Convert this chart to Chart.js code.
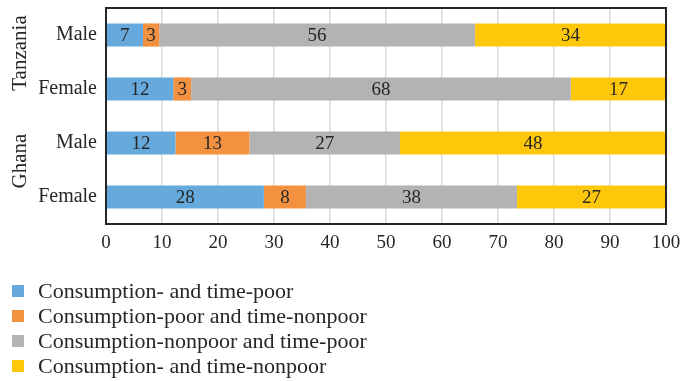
<!DOCTYPE html>
<html>
<head>
<meta charset="utf-8">
<script src="https://cdn.jsdelivr.net/npm/chart.js@4/dist/chart.umd.min.js"></script>
<style>
  html, body { margin: 0; padding: 0; background: #fff; }
  #wrap { width: 700px; height: 381px; }
</style>
</head>
<body>
<div id="wrap"><canvas id="chart"></canvas></div>
<script>
// Data
var rows = ['Male', 'Female', 'Male', 'Female'];
var groups = ['Tanzania', 'Ghana'];
var seriesNames = [
    'Consumption- and time-poor',
    'Consumption-poor and time-nonpoor',
    'Consumption-nonpoor and time-poor',
    'Consumption- and time-nonpoor'
];
var consTimePoor = [6.6, 12.0, 12.4, 28.2];
var consPoorTimeNonpoor = [2.9, 3.2, 13.2, 7.5];
var consNonpoorTimePoor = [56.4, 67.8, 26.9, 37.7];
var consTimeNonpoor = [34.1, 17.0, 47.5, 26.6];
var xTicks = [0, 10, 20, 30, 40, 50, 60, 70, 80, 90, 100];

var colors = ['#66a9dc', '#f29140', '#b3b3b3', '#ffc70a'];
var serif = '"Liberation Serif", "DejaVu Serif", serif';

// Plugins

var segmentLabels = {
    id: 'segmentLabels',
    afterDatasetsDraw: function (chart) {
        var ctx = chart.ctx;
        ctx.save();
        ctx.font = '19px ' + serif;
        ctx.fillStyle = '#262626';
        ctx.textAlign = 'center';
        ctx.textBaseline = 'middle';
        chart.data.datasets.forEach(function (ds, i) {
            chart.getDatasetMeta(i).data.forEach(function (bar, j) {
                var x = (bar.x + bar.base) / 2;
                ctx.fillText(Math.round(ds.data[j]), x, bar.y + 1);
            });
        });
        ctx.restore();
    }
};

var frameAndGroups = {
    id: 'frameAndGroups',
    afterDraw: function (chart) {
        var ctx = chart.ctx;
        var a = chart.chartArea;
        var y = chart.scales.y;
        ctx.save();
        ctx.strokeStyle = '#262626';
        ctx.lineWidth = 2;
        ctx.strokeRect(a.left, a.top, a.right - a.left, a.bottom - a.top);

        ctx.font = '21px ' + serif;
        ctx.fillStyle = '#262626';
        ctx.textAlign = 'center';
        ctx.textBaseline = 'middle';
        groups.forEach(function (g, k) {
            var yc = (y.getPixelForValue(k * 2) + y.getPixelForValue(k * 2 + 1)) / 2;
            ctx.save();
            ctx.translate(20, yc - 9);
            ctx.rotate(-Math.PI / 2);
            ctx.fillText(g, 0, 0);
            ctx.restore();
        });

        // legend, one entry per row
        ctx.font = '22px ' + serif;
        ctx.textAlign = 'left';
        chart.data.datasets.forEach(function (ds, i) {
            var cy = 291 + i * 25;
            ctx.fillStyle = ds.backgroundColor;
            ctx.fillRect(12, cy - 6, 12, 12);
            ctx.fillStyle = '#262626';
            ctx.fillText(ds.label, 38, cy + 1);
        });
        ctx.restore();
    }
};

var ctx = document.getElementById('chart');

var chart = new Chart(ctx, {
    type: 'bar',
    data: {
        labels: rows,
        datasets: [
            { label: seriesNames[0], data: consTimePoor, backgroundColor: colors[0] },
            { label: seriesNames[1], data: consPoorTimeNonpoor, backgroundColor: colors[1] },
            { label: seriesNames[2], data: consNonpoorTimePoor, backgroundColor: colors[2] },
            { label: seriesNames[3], data: consTimeNonpoor, backgroundColor: colors[3] }
        ]
    },
    options: {
        indexAxis: 'y',
        responsive: true,
        maintainAspectRatio: false,
        animation: false,
        layout: { padding: { left: 0, right: 34, top: 8, bottom: 0 } },
        datasets: {
            bar: { categoryPercentage: 1, barPercentage: 0.43, borderWidth: 0 }
        },
        plugins: {
            legend: { display: false },
            tooltip: { enabled: false }
        },
        scales: {
            x: {
                stacked: true,
                min: 0,
                max: 100,
                afterBuildTicks: function (scale) {
                    scale.ticks = xTicks.map(function (v) { return { value: v }; });
                },
                afterFit: function (scale) {
                    scale.height = 157;
                    scale.paddingLeft = 0;
                    scale.paddingRight = 0;
                },
                grid: { color: '#dcdcdc', lineWidth: 1.5, drawTicks: false },
                border: { display: false },
                ticks: {
                    padding: 8,
                    color: '#262626',
                    font: { family: serif, size: 19 }
                }
            },
            y: {
                stacked: true,
                afterFit: function (scale) {
                    scale.width = 106;
                    scale.paddingTop = 0;
                    scale.paddingBottom = 0;
                },
                grid: { display: false },
                border: { display: false },
                ticks: {
                    padding: 1,
                    color: '#262626',
                    font: { family: serif, size: 20 }
                }
            }
        }
    },
    plugins: [segmentLabels, frameAndGroups]
});
</script>
</body>
</html>
